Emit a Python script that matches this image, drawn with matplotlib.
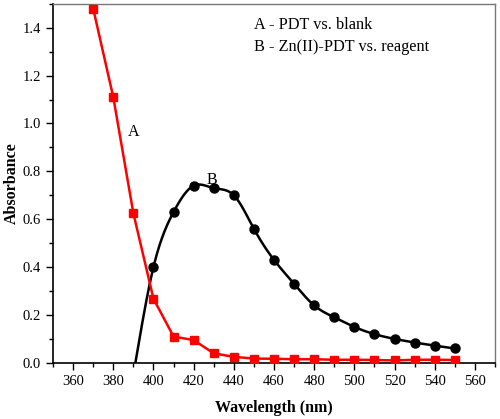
import numpy as np
import matplotlib.pyplot as plt
from matplotlib.ticker import MultipleLocator

plt.rcParams['font.family'] = ['Liberation Serif', 'DejaVu Serif']

# curve A: PDT vs. blank
wl_a = [370, 380, 390, 400, 410, 420, 430, 440, 450, 460, 470, 480, 490, 500,
        510, 520, 530, 540, 550]
abs_a = [1.48, 1.11, 0.625, 0.268, 0.11, 0.095, 0.04, 0.025, 0.018, 0.017,
         0.015, 0.015, 0.013, 0.013, 0.012, 0.010, 0.013, 0.013, 0.012]

# curve B: Zn(II)-PDT vs. reagent
wl_b = [400, 410, 420, 430, 440, 450, 460, 470, 480, 490, 500, 510, 520, 530,
        540, 550]
abs_b = [0.40, 0.63, 0.74, 0.73, 0.70, 0.56, 0.43, 0.33, 0.24, 0.19, 0.15,
         0.12, 0.10, 0.085, 0.072, 0.06]
# where the fitted curve B meets the x axis
b_start = (391, 0.0)


def natural_spline(x, y, xs):
    # plain natural cubic spline, solved with a dense system (few points)
    x = np.asarray(x, float)
    y = np.asarray(y, float)
    n = len(x)
    h = np.diff(x)
    A = np.zeros((n, n))
    r = np.zeros(n)
    A[0, 0] = 1.0
    A[-1, -1] = 1.0
    for i in range(1, n - 1):
        A[i, i - 1] = h[i - 1]
        A[i, i] = 2 * (h[i - 1] + h[i])
        A[i, i + 1] = h[i]
        r[i] = 6 * ((y[i + 1] - y[i]) / h[i] - (y[i] - y[i - 1]) / h[i - 1])
    M = np.linalg.solve(A, r)
    idx = np.clip(np.searchsorted(x, xs) - 1, 0, n - 2)
    x0, x1 = x[idx], x[idx + 1]
    hh = x1 - x0
    a = (x1 - xs) / hh
    b = (xs - x0) / hh
    return (a * y[idx] + b * y[idx + 1]
            + ((a ** 3 - a) * M[idx] + (b ** 3 - b) * M[idx + 1]) * hh ** 2 / 6)


fig = plt.figure(figsize=(5.0, 4.19), dpi=100)
ax = fig.add_axes([0.106, 0.134, 0.884, 0.857])

xb = [b_start[0]] + wl_b
yb = [b_start[1]] + abs_b
xs = np.linspace(xb[0], xb[-1], 400)
ax.plot(xs, natural_spline(xb, yb, xs), color='black', lw=1.8, zorder=2)
ax.plot(wl_b, abs_b, 'o', color='black', ms=6.5, zorder=3)

ax.plot(wl_a, abs_a, '-s', color='red', lw=1.8, ms=5.5, zorder=4)

ax.set_xlim(350, 570)
ax.set_ylim(0, 1.5)
ax.xaxis.set_major_locator(MultipleLocator(20))
ax.xaxis.set_minor_locator(MultipleLocator(10))
ax.yaxis.set_major_locator(MultipleLocator(0.2))
ax.yaxis.set_minor_locator(MultipleLocator(0.1))
ax.xaxis.set_major_formatter(lambda v, p: '' if v < 355 or v > 565 else f'{v:.0f}')
ax.yaxis.set_major_formatter(lambda v, p: '' if v > 1.45 else f'{v:.1f}')

ax.tick_params(which='both', direction='out', top=False, right=False,
               labelsize=10.5, width=1.0)
ax.tick_params(which='major', length=5)
ax.tick_params(which='minor', length=3)
for s in ['left', 'bottom']:
    ax.spines[s].set_linewidth(1.2)
for s in ['top', 'right']:
    ax.spines[s].set_color('#777777')
    ax.spines[s].set_linewidth(1.0)

ax.set_xlabel('Wavelength (nm)', fontsize=11.5, fontweight='bold', labelpad=9)
ax.set_ylabel('Absorbance', fontsize=11.5, fontweight='bold', labelpad=2)

ax.text(390, 0.965, 'A', fontsize=11.5, ha='center', va='center')
ax.text(429, 0.765, 'B', fontsize=11.5, ha='center', va='center')
ax.text(450, 1.412, 'A - PDT vs. blank', fontsize=11.7, va='center')
ax.text(450, 1.32, 'B - Zn(II)-PDT vs. reagent', fontsize=11.7, va='center')

fig.savefig('out.png', dpi=100)
